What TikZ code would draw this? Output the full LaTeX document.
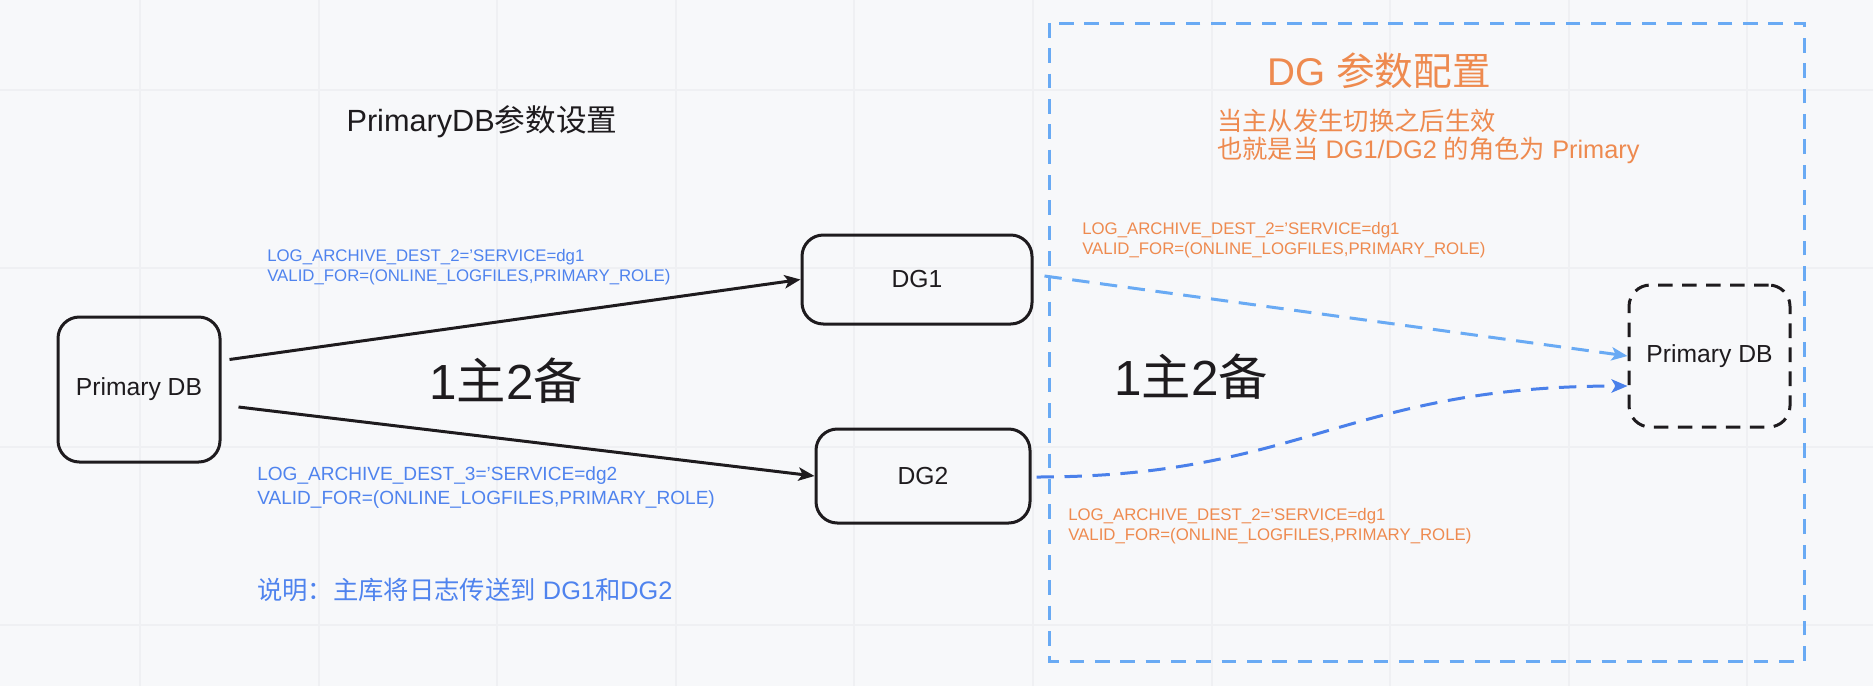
\documentclass[tikz,border=0pt]{standalone}
\usepackage{fontspec}
\setmainfont{Liberation Sans}
\newfontfamily\cjk{Noto Sans CJK SC}
\usetikzlibrary{arrows.meta,positioning,calc}
\definecolor{dgInk}{HTML}{1E1B1E}
\definecolor{dgPaper}{HTML}{F7F8FA}
\definecolor{dgGrid}{HTML}{EFF0F3}
\definecolor{dgBlueText}{HTML}{4F83EE}
\definecolor{dgOrange}{HTML}{EE8A4F}
\definecolor{dgSky}{HTML}{69AAF4}
\definecolor{dgBlue}{HTML}{4A80EA}
\tikzset{
  dg/base/.style={draw=dgInk, line width=2.25pt, align=center, text=dgInk,
    inner sep=0pt},
  dg/box/.style={dg/base, rounded corners=16pt,
    font=\fontsize{18.5}{21}\selectfont},
  dg/ghost/.style={dg/box, dash pattern=on 11pt off 7pt},
  dg/frame/.style={draw=dgSky, line width=2.25pt, dash pattern=on 11pt off 8pt},
  dg/grid/.style={draw=dgGrid, line width=1.5pt},
  dg/arrow/.style={-{Stealth[length=12pt,width=10pt,inset=3pt]}, draw=dgInk,
    line width=2.25pt},
  dg/sync/.style={dg/arrow, draw=dgSky, dash pattern=on 13pt off 8pt},
  dg/syncdark/.style={dg/arrow, draw=dgBlue, dash pattern=on 13pt off 8pt},
  % small parameter notes next to the arrows
  dg/param/.style={font=\fontsize{12.6}{15}\selectfont, align=left,
    anchor=west, inner sep=0pt},
  dg/heading/.style={text=dgInk, inner sep=0pt},
  dg/ratio/.style={font=\fontsize{37}{40}\selectfont, text=dgInk, inner sep=0pt},
}

\begin{document}
\begin{tikzpicture}[x=0.75pt, y=-0.75pt,
    bluenote/.style={dg/param, text=dgBlueText},
    orangenote/.style={dg/param, text=dgOrange},
]
\useasboundingbox (0,0) rectangle (1873,686);
\fill[dgPaper] (0,0) rectangle (1873,686);
\foreach \gx in {0,...,9}
  \draw[dg/grid] ({140+178.6*\gx},0) -- ++(0,686);
\foreach \gy in {0,...,3}
  \draw[dg/grid] (0,{90+178.3*\gy}) -- ++(1873,0);

\draw[dg/frame] (1049,23) rectangle (1804,661);

\node[dg/heading, font=\fontsize{23}{26}\selectfont] (ptitle) at (482,122)
  {PrimaryDB{\cjk 参数设置}};
\node[dg/heading, text=dgOrange, font=\fontsize{29}{32}\selectfont] (dgtitle) at (1379,71)
  {DG {\cjk 参数配置}};
\node[dg/param, text=dgOrange, font=\fontsize{19}{21}\selectfont] (dgnote) at (1217,136)
  {{\cjk 当主从发生切换之后生效}\\{\cjk 也就是当} DG1/DG2 {\cjk 的角色为} Primary};

\node[dg/box, minimum width=121.5pt, minimum height=108.75pt] (pdb) at (139,389.5) {Primary DB};
\node[dg/box, minimum width=172.5pt, minimum height=66.75pt] (dg1) at (917,279.5) {DG1};
\node[dg/box, minimum width=160.5pt, minimum height=70.5pt] (dg2) at (923,476) {DG2};
\node[dg/ghost, minimum width=120.75pt, minimum height=106.5pt] (ghost) at (1709.5,356) {Primary DB};

\draw[dg/arrow] ($(pdb.east)+(8,-30)$) -- (dg1.west);
\draw[dg/arrow] ($(pdb.east)+(17,17.5)$) -- (dg2.west);

\node[bluenote] (dest2) at (267,267)
  {LOG\_ARCHIVE\_DEST\_2='SERVICE=dg1\\VALID\_FOR=(ONLINE\_LOGFILES,PRIMARY\_ROLE)};
\node[bluenote, font=\fontsize{14.3}{18}\selectfont] (dest3) at (257,488)
  {LOG\_ARCHIVE\_DEST\_3='SERVICE=dg2\\VALID\_FOR=(ONLINE\_LOGFILES,PRIMARY\_ROLE)};
\node[bluenote, font=\fontsize{19}{21}\selectfont] (remark) at (257,590)
  {{\cjk 说明：主库将日志传送到} DG1{\cjk 和}DG2};

\node[dg/ratio] (ratioL) at (506,381) {1{\cjk 主}2{\cjk 备}};
\node[dg/ratio] (ratioR) at (1191,377) {1{\cjk 主}2{\cjk 备}};

\coordinate (d1out) at ($(dg1.east)+(11,-3.5)$);
\coordinate (d2out) at ($(dg2.east)+(5,1)$);
\coordinate (pin2) at ($(ghost.west)+(0,30)$);
\draw[dg/sync] (d1out) -- (ghost.west);
\draw[dg/syncdark] (d2out) .. controls ($(d2out)+(265,0)$) and ($(pin2)+(-280,0)$) .. (pin2);

\node[orangenote] (back1) at (1082,240.5)
  {LOG\_ARCHIVE\_DEST\_2='SERVICE=dg1\\VALID\_FOR=(ONLINE\_LOGFILES,PRIMARY\_ROLE)};
\node[orangenote] (back2) at (1068,526)
  {LOG\_ARCHIVE\_DEST\_2='SERVICE=dg1\\VALID\_FOR=(ONLINE\_LOGFILES,PRIMARY\_ROLE)};
\end{tikzpicture}
\end{document}
